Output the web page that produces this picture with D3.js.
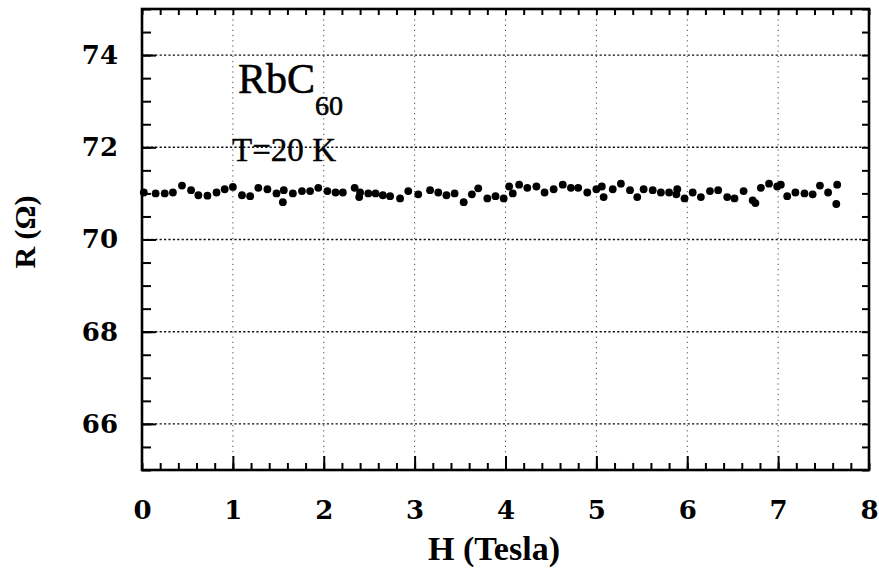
<!DOCTYPE html>
<html>
<head>
<meta charset="utf-8">
<script src="https://cdn.jsdelivr.net/npm/d3@7"></script>
<style>
  html, body { margin: 0; padding: 0; background: #fff; }
  svg { display: block; }
</style>
</head>
<body>
<svg id="chart" width="879" height="571"></svg>
<script>
// Magnetoresistance of RbC60 at T = 20 K: field H (Tesla) vs resistance R (Ohm)
const fieldH = [
  0.02, 0.15, 0.25, 0.34, 0.44, 0.54, 0.62, 0.72, 0.82, 0.91,
  1.00, 1.10, 1.19, 1.28, 1.38, 1.48, 1.55, 1.56, 1.66, 1.76,
  1.85, 1.94, 2.04, 2.13, 2.21, 2.34, 2.39, 2.40, 2.49, 2.57,
  2.65, 2.73, 2.84, 2.93, 3.04, 3.17, 3.26, 3.35, 3.44, 3.54,
  3.63, 3.70, 3.80, 3.89, 3.98, 4.04, 4.08, 4.15, 4.24, 4.34,
  4.43, 4.53, 4.63, 4.72, 4.80, 4.90, 5.00, 5.06, 5.08, 5.18,
  5.27, 5.37, 5.45, 5.52, 5.62, 5.71, 5.80, 5.88, 5.89, 5.97,
  6.06, 6.15, 6.25, 6.34, 6.44, 6.52, 6.62, 6.72, 6.75, 6.81,
  6.90, 6.99, 7.03, 7.10, 7.19, 7.29, 7.38, 7.46, 7.55, 7.64,
  7.65
];
const resistance = [
  71.02, 71.00, 71.00, 71.02, 71.17, 71.07, 70.96, 70.95, 71.02, 71.09,
  71.14, 70.96, 70.94, 71.12, 71.09, 71.00, 70.81, 71.07, 71.00, 71.05,
  71.05, 71.12, 71.05, 71.02, 71.02, 71.12, 70.92, 71.02, 71.00, 71.00,
  70.96, 70.94, 70.89, 71.05, 70.98, 71.07, 71.02, 70.96, 71.00, 70.81,
  70.98, 71.11, 70.89, 70.94, 70.89, 71.15, 71.00, 71.19, 71.12, 71.15,
  71.02, 71.09, 71.19, 71.12, 71.12, 71.02, 71.09, 71.15, 70.92, 71.09,
  71.21, 71.07, 70.92, 71.09, 71.07, 71.02, 71.02, 70.98, 71.09, 70.89,
  71.02, 70.92, 71.05, 71.07, 70.92, 70.89, 71.05, 70.85, 70.79, 71.12,
  71.21, 71.15, 71.19, 70.94, 71.02, 71.00, 70.98, 71.17, 71.02, 70.77,
  71.19
];
const xTickValues = [0, 1, 2, 3, 4, 5, 6, 7, 8];
const yTickValues = [66, 68, 70, 72, 74];
const xLabel = "H (Tesla)";
const yLabel = "R (\u03A9)";
const compound = "RbC";
const compoundSub = "60";
const tempLabel = "T=20 K";

const svg = d3.select("#chart");
const plotLeft = 142, plotRight = 869, plotTop = 9, plotBottom = 470;

const x = d3.scaleLinear().domain([0, 8]).range([plotLeft, plotRight]);
const y = d3.scaleLinear().domain([65, 75]).range([plotBottom, plotTop]);

const xMinor = d3.range(0, 8.0001, 0.2).map(v => +v.toFixed(1));
const yMinor = d3.range(65, 75.0001, 0.5).map(v => +v.toFixed(1));

// grid lines
const grid = svg.append("g");
grid.selectAll("line.h").data(yTickValues).join("line")
  .attr("class", "h")
  .attr("x1", plotLeft).attr("x2", plotRight)
  .attr("y1", d => y(d)).attr("y2", d => y(d))
  .attr("stroke", "#111").attr("stroke-width", 1.4)
  .attr("stroke-dasharray", "2.2,2.2");
grid.selectAll("line.v").data(xTickValues.slice(1, -1)).join("line")
  .attr("class", "v")
  .attr("y1", plotTop).attr("y2", plotBottom)
  .attr("x1", d => x(d)).attr("x2", d => x(d))
  .attr("stroke", "#444").attr("stroke-width", 1)
  .attr("stroke-dasharray", "1.2,4");

// axes: minor ticks on all four sides, major ticks with labels bottom and left
function styleAxis(g) {
  g.select(".domain").remove();
  g.selectAll(".tick line").attr("stroke", "#000").attr("stroke-width", 2);
}
const noLabel = () => "";
const tickFont = g => g.selectAll(".tick text")
  .attr("font-family", "'DejaVu Serif', serif").attr("font-weight", "bold")
  .attr("font-size", 26).attr("fill", "#000");

svg.append("g").attr("transform", `translate(0,${plotBottom})`)
  .call(d3.axisBottom(x).tickValues(xMinor).tickSize(-7).tickFormat(noLabel)).call(styleAxis);
svg.append("g").attr("transform", `translate(0,${plotTop})`)
  .call(d3.axisTop(x).tickValues(xMinor).tickSize(-6).tickFormat(noLabel)).call(styleAxis);
svg.append("g").attr("transform", `translate(${plotLeft},0)`)
  .call(d3.axisLeft(y).tickValues(yMinor).tickSize(-9).tickFormat(noLabel)).call(styleAxis);
svg.append("g").attr("transform", `translate(${plotRight},0)`)
  .call(d3.axisRight(y).tickValues(yMinor).tickSize(-7).tickFormat(noLabel)).call(styleAxis);

const xAxis = svg.append("g").attr("transform", `translate(0,${plotBottom})`)
  .call(d3.axisBottom(x).tickValues(xTickValues).tickSize(-14).tickPadding(31).tickFormat(d3.format("d")));
styleAxis(xAxis);
tickFont(xAxis);
xAxis.selectAll(".tick").filter(d => d === 0 || d === 8).select("line").remove();

const yAxis = svg.append("g").attr("transform", `translate(${plotLeft},0)`)
  .call(d3.axisLeft(y).tickValues(yTickValues).tickSize(-14).tickPadding(24).tickFormat(d3.format("d")));
styleAxis(yAxis);
tickFont(yAxis);

// frame
svg.append("rect")
  .attr("x", plotLeft).attr("y", plotTop)
  .attr("width", plotRight - plotLeft).attr("height", plotBottom - plotTop)
  .attr("fill", "none").attr("stroke", "#000").attr("stroke-width", 2.6);

// data points
svg.append("g").selectAll("circle")
  .data(fieldH.map((h, i) => [h, resistance[i]]))
  .join("circle")
  .attr("cx", d => x(d[0])).attr("cy", d => y(d[1]))
  .attr("r", 3.9).attr("fill", "#000");

// axis titles
svg.append("text")
  .attr("x", 494).attr("y", 560)
  .attr("text-anchor", "middle")
  .attr("font-family", "'Liberation Serif', serif").attr("font-weight", "bold")
  .attr("font-size", 34).text(xLabel);

svg.append("text")
  .attr("transform", "translate(35,232) rotate(-90)")
  .attr("text-anchor", "middle")
  .attr("font-family", "'Liberation Serif', serif").attr("font-weight", "bold")
  .attr("font-size", 30).text(yLabel);

// annotations
const comp = svg.append("text")
  .attr("x", 238).attr("y", 93)
  .attr("font-family", "'Liberation Serif', serif")
  .attr("font-size", 42).attr("fill", "#000")
  .attr("stroke", "#000").attr("stroke-width", 0.6);
comp.append("tspan").text(compound);
comp.append("tspan").attr("font-size", 28).attr("dy", 22).text(compoundSub);

svg.append("text")
  .attr("x", 232).attr("y", 161)
  .attr("font-family", "'Liberation Serif', serif")
  .attr("font-size", 33).attr("textLength", 104).attr("lengthAdjust", "spacingAndGlyphs")
  .attr("stroke", "#000").attr("stroke-width", 0.4)
  .text(tempLabel);
</script>
</body>
</html>
